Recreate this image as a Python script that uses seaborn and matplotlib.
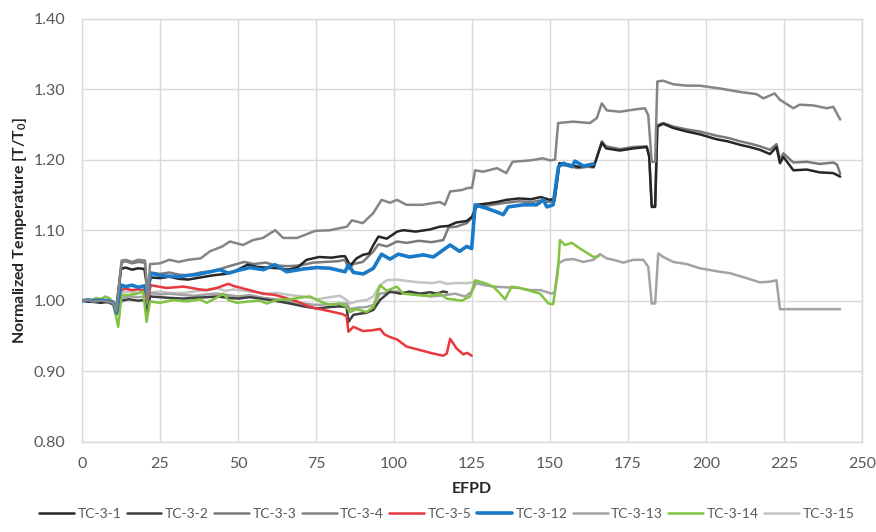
import matplotlib
matplotlib.use("Agg")
import matplotlib.pyplot as plt
import seaborn as sns
import pandas as pd

# ---- thermocouple readings: effective full power days vs normalized temperature ----
tc31_days = [0, 2, 4, 6, 8, 10, 11, 12.5, 14, 16, 18, 20, 21, 22, 25, 28, 31, 34, 38, 42, 46,
             48.5, 50, 53, 56, 59, 63, 66, 69, 72, 76, 80, 83, 84.3, 86, 88, 90, 92, 93.4, 95,
             97.7, 101, 103, 107, 111.5, 114.7, 117.4, 120, 123.3, 125, 126.5, 130, 133, 136,
             140, 144, 147, 150, 151.5, 153, 156, 159, 162, 164, 166.6, 168, 172.4, 176.7, 181,
             181.8, 182.6, 183.7, 184.4, 186.3, 189.5, 193.8, 198, 203.4, 207, 211, 214, 217.3,
             220.5, 222.6, 223.7, 224.8, 228, 232.3, 236.5, 240.8, 243]
tc31_vals = [1.0, 0.999, 1.0, 0.998, 0.999, 0.997, 0.99, 1.045, 1.047, 1.044, 1.046, 1.045, 1.015,
             1.033, 1.032, 1.034, 1.031, 1.03, 1.033, 1.036, 1.038, 1.041, 1.044, 1.051, 1.048,
             1.047, 1.046, 1.044, 1.047, 1.058, 1.062, 1.061, 1.063, 1.063, 1.05, 1.06, 1.065,
             1.067, 1.079, 1.091, 1.088, 1.098, 1.1, 1.098, 1.101, 1.105, 1.106, 1.111, 1.113,
             1.119, 1.136, 1.138, 1.14, 1.143, 1.145, 1.144, 1.147, 1.143, 1.145, 1.195, 1.193,
             1.19, 1.192, 1.19, 1.224, 1.216, 1.213, 1.216, 1.218, 1.204, 1.133, 1.133, 1.247,
             1.251, 1.245, 1.24, 1.236, 1.229, 1.226, 1.221, 1.218, 1.214, 1.208, 1.218, 1.195,
             1.204, 1.185, 1.186, 1.182, 1.181, 1.176]

tc32_days = [0, 2, 4, 6, 8, 10, 11, 12.7, 15, 18, 20, 21, 21.8, 25, 28, 32.5, 36, 40, 43.2, 47,
             50, 53.8, 57, 60, 63, 66.7, 70.9, 75.2, 79.5, 82.7, 84.8, 85.4, 87, 91.2, 93.4, 95.5,
             98.7, 102, 105, 108.3, 111.5, 113.7, 115.8, 117]
tc32_vals = [1.0, 0.999, 0.998, 0.997, 0.998, 0.995, 0.98, 1.0, 1.002, 1.0, 1.001, 0.982, 1.006,
             1.005, 1.004, 1.003, 1.004, 1.005, 1.006, 1.004, 1.003, 1.005, 1.003, 1.001, 0.999,
             0.996, 0.992, 0.989, 0.991, 0.992, 0.991, 0.97, 0.98, 0.983, 0.987, 1.001, 1.013,
             1.01, 1.013, 1.01, 1.012, 1.01, 1.013, 1.012]

tc33_days = [0, 2, 4, 6, 8, 10, 11, 12.7, 14, 16, 18, 20.2, 21, 22, 25, 28, 31, 34, 38, 42, 45,
             48, 52, 55, 59, 62, 66, 70, 74, 78, 82, 84.3, 85.5, 87, 90, 93.4, 95, 97.7, 101, 104,
             108, 112, 115.8, 117.5, 120, 123.3, 124.9, 126.5, 130, 133, 136, 140, 144, 147, 150,
             151.5, 153, 156, 159, 162, 164, 166.6, 168, 172.4, 176.7, 181, 181.8, 182.6, 183.7,
             184.4, 186.3, 189.5, 193.8, 198, 203.4, 207, 211, 214, 217.3, 220.5, 222.6, 223.7,
             224.8, 228, 232.3, 236.5, 240.8, 242, 243]
tc33_vals = [1.0, 1.0, 0.999, 1.0, 0.998, 0.997, 0.983, 1.054, 1.056, 1.053, 1.055, 1.054, 1.005,
             1.04, 1.038, 1.04, 1.037, 1.036, 1.04, 1.042, 1.046, 1.05, 1.055, 1.052, 1.054, 1.05,
             1.049, 1.05, 1.054, 1.055, 1.056, 1.058, 1.045, 1.052, 1.055, 1.07, 1.08, 1.077,
             1.084, 1.082, 1.085, 1.083, 1.086, 1.104, 1.105, 1.11, 1.117, 1.133, 1.135, 1.137,
             1.139, 1.141, 1.14, 1.142, 1.14, 1.142, 1.193, 1.191, 1.188, 1.19, 1.189, 1.226,
             1.219, 1.215, 1.218, 1.219, 1.206, 1.135, 1.135, 1.249, 1.252, 1.247, 1.243, 1.24,
             1.234, 1.231, 1.226, 1.223, 1.219, 1.214, 1.222, 1.2, 1.209, 1.196, 1.197, 1.194,
             1.196, 1.193, 1.18]

tc34_days = [0, 2, 4, 6, 8, 10, 11, 12.7, 14, 16, 18, 20.2, 21, 21.8, 25, 28, 31, 34, 38, 41, 45,
             47.4, 51.6, 54.8, 58, 61.9, 64.5, 68.9, 74.7, 79.5, 84.9, 86.5, 90, 93.3, 96, 98.7,
             101, 104, 109, 114.7, 116.3, 118, 121.8, 123.7, 125, 126, 128.6, 133, 136, 138,
             143.6, 147.8, 150, 151.6, 152.6, 157.4, 162.8, 165, 166.6, 168.2, 172.4, 176.7,
             180.4, 181.5, 182.6, 183.7, 184.4, 186.3, 189.5, 193.8, 198, 204.5, 211, 216.2,
             218.4, 222, 223.7, 228, 230, 234.4, 238.7, 240.8, 243]
tc34_vals = [1.0, 1.001, 0.999, 1.0, 0.999, 0.997, 0.985, 1.057, 1.058, 1.055, 1.058, 1.057, 1.0,
             1.052, 1.053, 1.058, 1.055, 1.058, 1.06, 1.07, 1.077, 1.084, 1.079, 1.086, 1.089,
             1.1, 1.089, 1.089, 1.099, 1.1, 1.105, 1.114, 1.11, 1.124, 1.143, 1.139, 1.143,
             1.136, 1.136, 1.14, 1.136, 1.155, 1.157, 1.16, 1.16, 1.185, 1.183, 1.188, 1.181,
             1.197, 1.199, 1.202, 1.199, 1.2, 1.252, 1.254, 1.252, 1.259, 1.28, 1.27, 1.268,
             1.271, 1.273, 1.263, 1.197, 1.197, 1.311, 1.312, 1.307, 1.305, 1.305, 1.301, 1.296,
             1.293, 1.287, 1.294, 1.285, 1.273, 1.278, 1.277, 1.273, 1.275, 1.257]

tc35_days = [0, 2, 4, 6, 8, 10, 11, 12.5, 14, 16, 18, 20, 21, 22, 27.1, 32.5, 37.8, 40, 43.2,
             46.9, 48.5, 52.8, 58, 62, 66, 69, 72, 75, 79.5, 83.5, 84.8, 85.4, 87, 90, 93, 95.5,
             97, 99, 101, 104, 108.3, 112.6, 115.8, 116.9, 118, 120.1, 122.2, 123.5, 124.9]
tc35_vals = [1.0, 1.0, 1.001, 1.0, 1.001, 0.998, 0.988, 1.015, 1.017, 1.015, 1.016, 1.015, 1.0,
             1.022, 1.018, 1.02, 1.016, 1.015, 1.018, 1.024, 1.021, 1.016, 1.01, 1.008, 1.003,
             0.999, 0.993, 0.989, 0.985, 0.981, 0.978, 0.956, 0.963, 0.957, 0.958, 0.96, 0.952,
             0.948, 0.945, 0.935, 0.93, 0.925, 0.922, 0.925, 0.946, 0.932, 0.924, 0.926, 0.922]

tc312_days = [0, 2, 4, 6, 8, 10, 11, 12.5, 14, 16, 18, 20, 21, 22, 25, 27, 31.4, 34, 36.8, 40,
              44.2, 46.9, 50, 53.8, 58.1, 61.9, 65.6, 70.9, 75.2, 79.5, 84.3, 85.4, 87, 90.2,
              93.4, 96, 98.7, 101.4, 105, 109.4, 112.6, 115.8, 118, 121, 123.3, 124.9, 126,
              129.7, 132.9, 135, 136.6, 141.4, 145.7, 147.9, 149, 151, 152.7, 154.3, 157, 158,
              160.7, 163.9]
tc312_vals = [1.0, 1.001, 1.0, 1.001, 1.0, 0.998, 0.984, 1.022, 1.02, 1.022, 1.019, 1.021, 1.008,
              1.039, 1.036, 1.035, 1.034, 1.036, 1.037, 1.04, 1.044, 1.039, 1.043, 1.047, 1.044,
              1.051, 1.041, 1.045, 1.047, 1.046, 1.041, 1.051, 1.04, 1.038, 1.046, 1.066, 1.059,
              1.066, 1.062, 1.065, 1.062, 1.072, 1.079, 1.07, 1.077, 1.074, 1.136, 1.131, 1.126,
              1.122, 1.133, 1.136, 1.136, 1.143, 1.133, 1.136, 1.19, 1.195, 1.19, 1.198, 1.191,
              1.194]

tc313_days = [0, 2, 4, 6, 8, 10, 11, 12.7, 15, 18, 20, 21, 21.8, 25, 28, 32.5, 36, 40, 43.2, 47,
              50, 53.8, 58, 62.4, 66.7, 70.9, 75, 79.5, 84.8, 85.9, 88, 91.2, 93.4, 95.5, 100.9,
              105, 108.3, 111.5, 114.7, 119.6, 122.8, 125, 126.3, 129, 132, 136, 140, 143.6, 147,
              150.5, 151.5, 152.7, 154.8, 157.5, 160.7, 163.9, 166, 168.2, 170.3, 173.5, 176.7,
              179.9, 181.5, 182.6, 183.7, 184.7, 186.3, 189.5, 193.8, 198, 204.5, 207.7, 213,
              217.3, 220.5, 222.6, 223.7, 230, 236, 243]
tc313_vals = [1.0, 1.0, 0.999, 1.0, 0.999, 0.996, 0.983, 1.004, 1.006, 1.005, 1.006, 0.985, 1.011,
              1.009, 1.01, 1.008, 1.007, 1.009, 1.01, 1.008, 1.006, 1.008, 1.004, 1.002, 0.999,
              0.996, 0.994, 0.995, 0.996, 0.988, 0.99, 0.991, 0.994, 1.01, 1.013, 1.01, 1.008,
              1.006, 1.007, 1.01, 1.006, 1.013, 1.025, 1.022, 1.02, 1.019, 1.018, 1.015, 1.015,
              1.01, 1.012, 1.053, 1.058, 1.059, 1.055, 1.058, 1.066, 1.06, 1.058, 1.054, 1.058,
              1.058, 1.048, 0.996, 0.996, 1.067, 1.062, 1.055, 1.052, 1.046, 1.041, 1.039, 1.032,
              1.026, 1.027, 1.029, 0.988, 0.988, 0.988, 0.988]

tc314_days = [0, 1.5, 3, 4.5, 6, 7.5, 9, 10, 11.6, 12.7, 15, 17.5, 19.6, 20.7, 21.8, 25, 29.3,
              33.5, 37.8, 40, 43, 45.3, 46.9, 49.6, 53.8, 57, 59.2, 62.4, 66.7, 70.9, 73.1, 76.3,
              79.5, 82.7, 84.8, 85.9, 88, 91.2, 93.4, 95.5, 97.7, 100.9, 103, 107.3, 111.5,
              114.7, 116.9, 121.7, 124.4, 126, 129.7, 131.8, 134, 135.6, 137.7, 140.4, 143.6,
              146.8, 149.5, 151, 152.5, 153.2, 154.8, 157, 159.6, 161.8, 163.9, 165.5]
tc314_vals = [1.0, 1.002, 1.0, 1.004, 1.002, 1.006, 1.003, 0.996, 0.963, 1.008, 1.008, 1.01, 1.013,
              0.97, 0.999, 0.997, 1.001, 0.999, 1.002, 0.997, 1.004, 1.01, 1.001, 0.997, 0.999,
              1.0, 0.996, 1.001, 1.002, 1.005, 1.006, 0.999, 0.994, 0.996, 0.991, 0.984, 0.988,
              0.984, 0.991, 1.022, 1.014, 1.02, 1.01, 1.008, 1.007, 1.01, 1.003, 1.0, 1.006,
              1.029, 1.024, 1.02, 1.01, 1.002, 1.02, 1.018, 1.014, 1.01, 0.996, 0.995, 1.04,
              1.086, 1.079, 1.082, 1.074, 1.068, 1.062, 1.063]

tc315_days = [0, 2, 4, 6, 8, 10, 11, 12.7, 15, 18, 20, 21, 22, 25, 28, 32.5, 36, 40, 43.2, 46,
              48.5, 53.8, 59.2, 62.4, 66.7, 70.9, 75.2, 79.5, 82.7, 84.8, 85.9, 88, 91.2, 93.4,
              95.5, 97.7, 100.9, 104, 108.3, 112.6, 114.7, 116.9, 120.1, 123.3, 125.4]
tc315_vals = [1.0, 0.999, 1.0, 0.999, 1.0, 0.997, 0.982, 1.012, 1.013, 1.011, 1.012, 0.99, 1.012,
              1.013, 1.011, 1.011, 1.013, 1.015, 1.018, 1.014, 1.016, 1.013, 1.01, 1.011, 1.008,
              1.006, 1.002, 1.005, 1.007, 1.001, 0.996, 0.999, 1.001, 1.006, 1.022, 1.029, 1.03,
              1.028, 1.026, 1.025, 1.027, 1.024, 1.025, 1.025, 1.026]

series_names = ["TC-3-1", "TC-3-2", "TC-3-3", "TC-3-4", "TC-3-5",
                "TC-3-12", "TC-3-13", "TC-3-14", "TC-3-15"]
series_days = [tc31_days, tc32_days, tc33_days, tc34_days, tc35_days,
               tc312_days, tc313_days, tc314_days, tc315_days]
series_vals = [tc31_vals, tc32_vals, tc33_vals, tc34_vals, tc35_vals,
               tc312_vals, tc313_vals, tc314_vals, tc315_vals]

x_ticks = [0, 25, 50, 75, 100, 125, 150, 175, 200, 225, 250]
y_ticks = [0.80, 0.90, 1.00, 1.10, 1.20, 1.30, 1.40]

line_colors = {"TC-3-1": "#262626", "TC-3-2": "#3f3f3f", "TC-3-3": "#7a7a7a",
               "TC-3-4": "#858585", "TC-3-5": "#e8383d", "TC-3-12": "#1a7ac8",
               "TC-3-13": "#a3a3a3", "TC-3-14": "#82c341", "TC-3-15": "#c4c4c4"}
line_widths = {"TC-3-12": 2.6}
draw_order = ["TC-3-15", "TC-3-13", "TC-3-2", "TC-3-5", "TC-3-14",
              "TC-3-3", "TC-3-1", "TC-3-12", "TC-3-4"]

frames = [pd.DataFrame({"EFPD": d, "T": v, "TC": n})
          for n, d, v in zip(series_names, series_days, series_vals)]
data = pd.concat(frames, ignore_index=True)

sns.set_theme(style="white")
plt.rcParams["font.family"] = ["Lato", "DejaVu Sans"]

fig = plt.figure(figsize=(8.76, 5.32), dpi=100)
ax = fig.add_axes([82 / 876, 1 - 441.7 / 532, 780 / 876, (441.7 - 18.7) / 532])

for z, name in enumerate(draw_order):
    sub = data[data["TC"] == name]
    sns.lineplot(data=sub, x="EFPD", y="T", ax=ax, color=line_colors[name],
                 linewidth=line_widths.get(name, 1.8), zorder=3 + z,
                 legend=False, estimator=None, sort=False)

ax.set_xlim(0, 250)
ax.set_ylim(0.80, 1.40)
ax.set_xticks(x_ticks)
ax.set_yticks(y_ticks)
ax.set_yticklabels([f"{t:.2f}" for t in y_ticks])
ax.grid(True, color="#d9d9d9", linewidth=1.0)
ax.set_axisbelow(True)
for s in ax.spines.values():
    s.set_color("#d9d9d9")
    s.set_linewidth(1.0)
ax.tick_params(axis="both", length=0, labelsize=11.5, labelcolor="#595959")
ax.tick_params(axis="y", pad=12)
ax.tick_params(axis="x", pad=11)
ax.set_xlabel("EFPD", fontsize=11.5, fontweight="bold", color="#262626", labelpad=8)
ax.set_ylabel("Normalized Temperature [T/T$_\\mathregular{0}$]", fontsize=11.5,
              fontweight="bold", color="#262626", labelpad=3)

handles = [plt.Line2D([], [], color=line_colors[n], linewidth=line_widths.get(n, 1.8))
           for n in series_names]
fig.legend(handles, series_names, loc="lower center", bbox_to_anchor=(0.51, 0.0),
           ncol=9, frameon=False, fontsize=10, handlelength=2.5, handletextpad=0.25,
           columnspacing=0.4, labelcolor="#595959")

fig.savefig("out.png", dpi=100)
